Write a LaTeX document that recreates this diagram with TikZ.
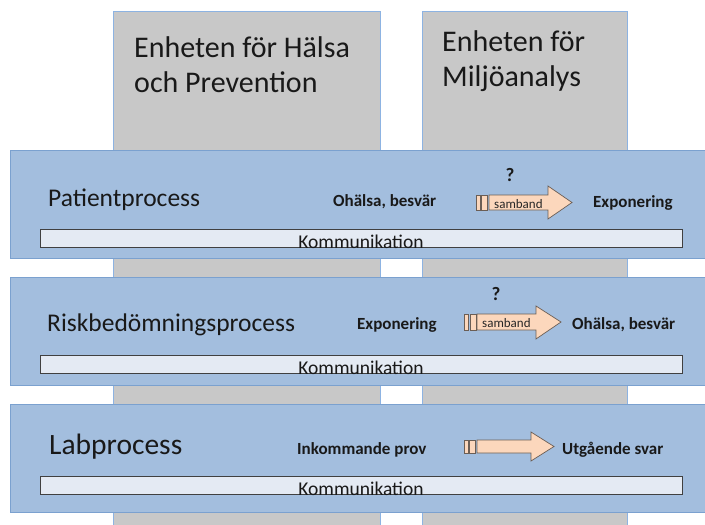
\documentclass[tikz,border=0pt]{standalone}
\usepackage{fontspec}
\setmainfont{Carlito}
\begin{document}
\begin{tikzpicture}[x=1pt,y=-1pt,
  unit/.style={draw=colborder,fill=colgray,line width=0.8pt},
  band/.style={draw=bandborder,fill=bandfill,line width=0.8pt},
  commbar/.style={draw=black!75,fill=commfill,line width=0.8pt},
  blockarrow/.style={draw=arrborder,fill=arrfill,line width=0.7pt},
  lbl/.style={inner sep=0pt,text=black!90,font=\bfseries\fontsize{17}{19}\selectfont},
  qmark/.style={inner sep=0pt,text=black!90,font=\bfseries\fontsize{19}{21}\selectfont},
  proc/.style={inner sep=0pt,anchor=west,text=black!90,font=\fontsize{25.5}{30}\selectfont},
  unitlbl/.style={inner sep=0pt,anchor=north west,align=left,text=black!90,font=\fontsize{30}{35}\selectfont},
  commlbl/.style={inner sep=0pt,anchor=base,text=black!90,font=\fontsize{19.5}{22}\selectfont},
  smallbl/.style={inner sep=0pt,anchor=base west,text=black!85,font=\fontsize{13}{15}\selectfont},
]
\definecolor{colgray}{HTML}{C8C8C8}
\definecolor{colborder}{HTML}{8DB3E2}
\definecolor{bandfill}{HTML}{A3BEDE}
\definecolor{bandborder}{HTML}{7BA1CF}
\definecolor{commfill}{HTML}{E4EAF3}
\definecolor{arrfill}{HTML}{FCD7BC}
\definecolor{arrborder}{HTML}{6B5E55}
\useasboundingbox (0,0) rectangle (705,525);

% units (columns)
\draw[unit] (113,11) rectangle (380,530);
\draw[unit] (422,11) rectangle (627,530);
\node[unitlbl] (u1) at (134,36) {Enheten för Hälsa\\och Prevention};
\node[unitlbl] (u2) at (442,30) {Enheten för\\Miljöanalys};

% bands
\draw[band] (10,150) rectangle (710,258);
\draw[band] (10,277) rectangle (710,385);
\draw[band] (10,404) rectangle (710,512);

% communication bars
\node[commbar,minimum width=642pt,minimum height=18pt,inner sep=0pt] (c1) at (361,238) {};
\node[commbar,minimum width=642pt,minimum height=18pt,inner sep=0pt] (c2) at (361,364.5) {};
\node[commbar,minimum width=642pt,minimum height=18pt,inner sep=0pt] (c3) at (361,485.5) {};
\node[commlbl] (k1) at ([yshift=-1pt]c1.south) {Kommunikation};
\node[commlbl] (k2) at ([yshift=-1pt]c2.south) {Kommunikation};
\node[commlbl] (k3) at ([yshift=-1pt]c3.south) {Kommunikation};

% process labels
\node[proc] (p1) at (48,200) {Patientprocess};
\node[proc] (p2) at (47,325) {Riskbedömningsprocess};
\node[proc,font=\fontsize{29.5}{34}\selectfont] (p3) at (49,447) {Labprocess};

% band 1
\node[lbl,anchor=west] (o1) at (333,202) {Ohälsa, besvär};
\node[lbl,anchor=west] (e1) at (593,203) {Exponering};
\node[qmark] (q1) at (510,175) {?};
\draw[blockarrow] (476,195) rectangle (480,210);
\draw[blockarrow] (481.5,195) rectangle (487,210);
\draw[blockarrow] (489,195) -- (548,195) -- (548,186) -- (572,202.5) -- (548,219) -- (548,210) -- (489,210) -- cycle;
\node[smallbl] (s1) at (494,208) {samband};

% band 2
\node[lbl,anchor=west] (e2) at (357,325) {Exponering};
\node[lbl,anchor=west] (o2) at (572,325) {Ohälsa, besvär};
\node[qmark] (q2) at (496,294) {?};
\draw[blockarrow] (464,314) rectangle (468.5,330);
\draw[blockarrow] (470,314) rectangle (476,330);
\draw[blockarrow] (477,314) -- (536,314) -- (536,306) -- (561,322) -- (536,339) -- (536,330) -- (477,330) -- cycle;
\node[smallbl] (s2) at (482,327.5) {samband};

% band 3
\node[lbl,anchor=west] (i3) at (297,450) {Inkommande prov};
\node[lbl,anchor=west] (u3) at (562,450) {Utgående svar};
\draw[blockarrow] (464,440) rectangle (468,453);
\draw[blockarrow] (469.5,440) rectangle (475,453);
\draw[blockarrow] (477,440) -- (531,440) -- (531,432) -- (554,446.5) -- (531,461) -- (531,453) -- (477,453) -- cycle;
\end{tikzpicture}
\end{document}
